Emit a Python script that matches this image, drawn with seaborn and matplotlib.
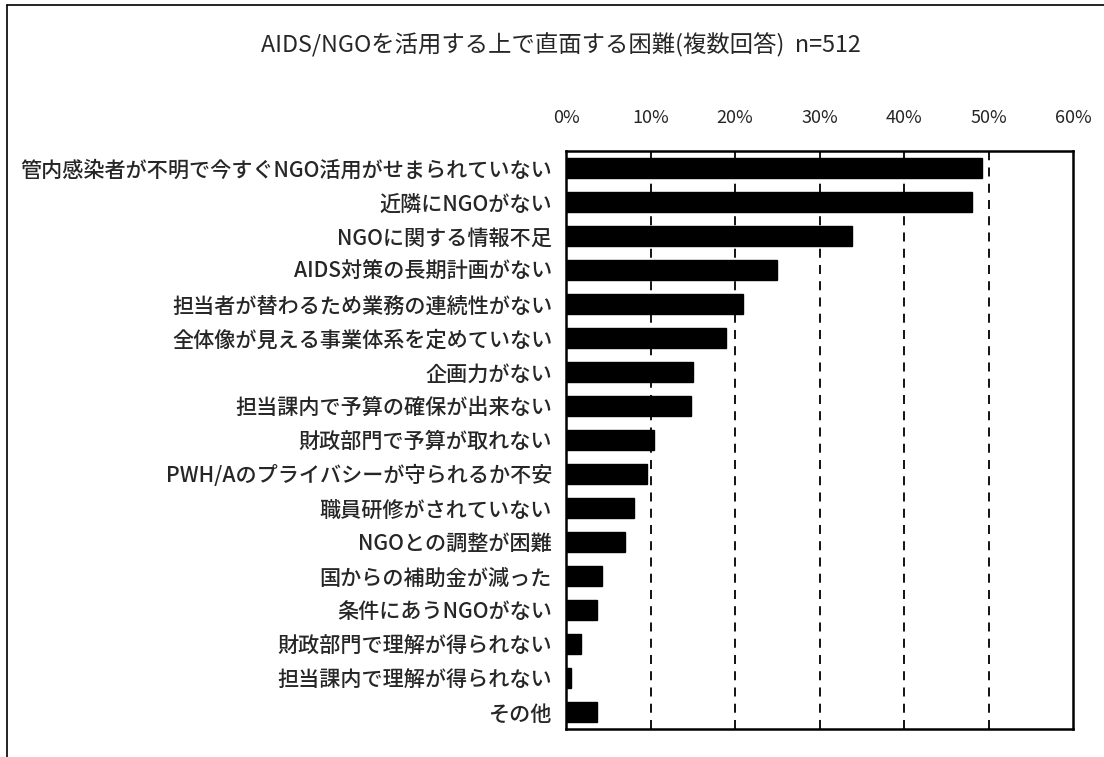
import matplotlib
matplotlib.use("Agg")
import matplotlib.pyplot as plt
import seaborn as sns
import pandas as pd

categories = [
    "管内感染者が不明で今すぐNGO活用がせまられていない",
    "近隣にNGOがない",
    "NGOに関する情報不足",
    "AIDS対策の長期計画がない",
    "担当者が替わるため業務の連続性がない",
    "全体像が見える事業体系を定めていない",
    "企画力がない",
    "担当課内で予算の確保が出来ない",
    "財政部門で予算が取れない",
    "PWH/Aのプライバシーが守られるか不安",
    "職員研修がされていない",
    "NGOとの調整が困難",
    "国からの補助金が減った",
    "条件にあうNGOがない",
    "財政部門で理解が得られない",
    "担当課内で理解が得られない",
    "その他",
]
values = [49.2, 48.0, 33.8, 25.0, 20.9, 18.9, 15.0, 14.8, 10.4, 9.6, 8.0, 7.0, 4.3, 3.7, 1.8, 0.6, 3.7]
tick_values = [0, 10, 20, 30, 40, 50, 60]
tick_labels = ["0%", "10%", "20%", "30%", "40%", "50%", "60%"]
title = "AIDS/NGOを活用する上で直面する困難(複数回答)  n=512"

sns.set_theme(style="white")
plt.rcParams['font.family'] = ['Noto Sans CJK JP', 'DejaVu Sans']

df = pd.DataFrame({"cat": categories, "val": values})

fig = plt.figure(figsize=(11.04, 7.57), dpi=100)
ax = fig.add_axes([0.5127, 0.037, 0.4593, 0.7638])

sns.barplot(data=df, x="val", y="cat", order=categories, color="black",
            width=0.6, ax=ax, saturation=1, edgecolor="black", zorder=3)

ax.set_xlim(0, 60)
ax.set_xticks(tick_values)
ax.set_xticklabels(tick_labels, fontsize=13)
ax.xaxis.tick_top()
ax.tick_params(axis="x", length=0, pad=17)
ax.tick_params(axis="y", length=0, pad=10, labelsize=15.2)
for lbl in ax.get_yticklabels():
    lbl.set_fontweight("medium")
ax.set_xlabel("")
ax.set_ylabel("")
for x in tick_values[1:-1]:
    ax.axvline(x, color="black", linestyle=(0, (5, 4)), linewidth=1.3, zorder=1)
for s in ax.spines.values():
    s.set_visible(True)
    s.set_color("black")
    s.set_linewidth(1.8)

fig.text(0.508, 0.94, title, ha="center", va="center", fontsize=16.8)

# outer frame (top and left edges)
fig.add_artist(plt.Line2D([0.006, 1.0], [0.993, 0.993], color="black", linewidth=1.2, transform=fig.transFigure))
fig.add_artist(plt.Line2D([0.006, 0.006], [0.0, 0.993], color="black", linewidth=1.2, transform=fig.transFigure))

fig.savefig("out.png", dpi=100)
